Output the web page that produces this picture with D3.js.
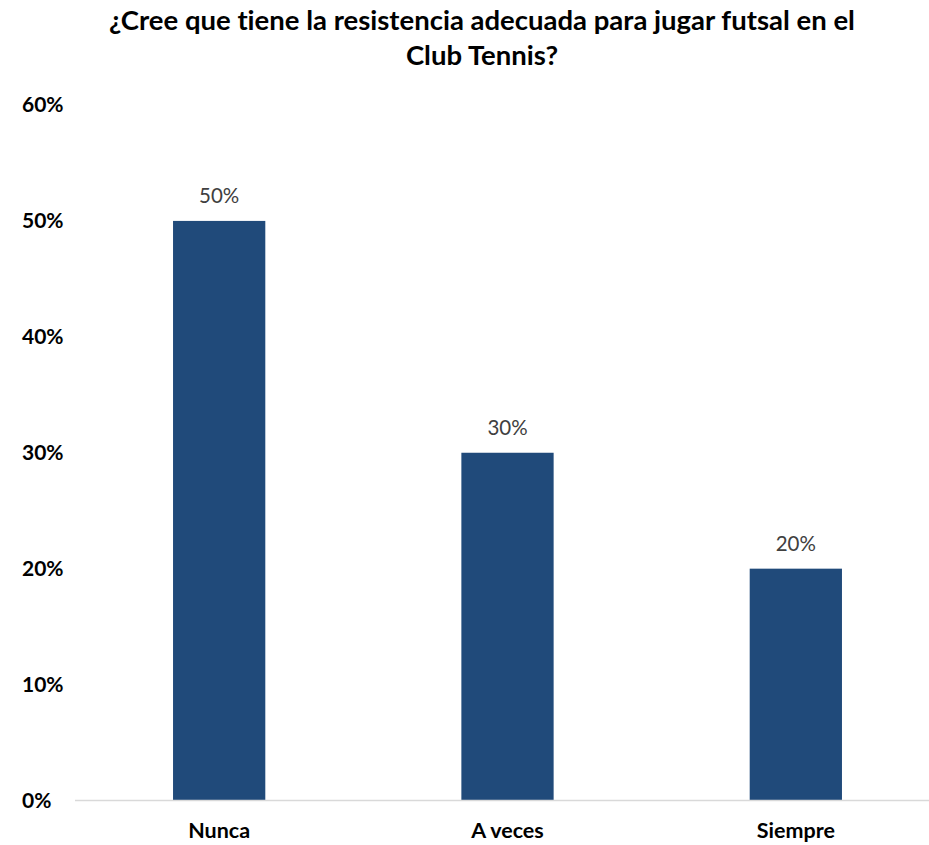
<!DOCTYPE html>
<html>
<head>
<meta charset="utf-8">
<script src="https://cdn.jsdelivr.net/npm/d3@7"></script>
<style>
  html, body { margin: 0; padding: 0; background: #fff; }
  svg { display: block; font-family: Lato, "Open Sans", sans-serif; font-variant-ligatures: none; }
</style>
</head>
<body>
<svg id="chart" width="929" height="845"></svg>
<script>
// Survey answers and share of respondents
const categories = ["Nunca", "A veces", "Siempre"];
const shares = [0.5, 0.3, 0.2];
const tickValues = [0, 0.1, 0.2, 0.3, 0.4, 0.5, 0.6];
const titleLines = ["¿Cree que tiene la resistencia adecuada para jugar futsal en el", "Club Tennis?"];

const svg = d3.select("#chart");
const plot = { left: 75, right: 940, top: 105, bottom: 800.5 };

const x = d3.scaleBand()
  .domain(categories)
  .range([plot.left, plot.right])
  .paddingInner(0.68)
  .paddingOuter(0.34);

const y = d3.scaleLinear()
  .domain([0, 0.6])
  .range([plot.bottom, plot.top]);

const pct = d3.format(".0%");

// Title
svg.append("g")
  .selectAll("text")
  .data(titleLines)
  .join("text")
  .attr("x", 482)
  .attr("y", (d, i) => 30 + i * 34.5)
  .attr("text-anchor", "middle")
  .attr("font-size", 27.5)
  .attr("font-weight", "bold")
  .attr("fill", "#000")
  .text(d => d);

// Y axis labels (left-aligned, no line)
const yAxis = svg.append("g")
  .attr("transform", "translate(22,0)")
  .call(d3.axisLeft(y).tickValues(tickValues).tickFormat(pct).tickSize(0).tickPadding(0));
yAxis.select(".domain").remove();
yAxis.selectAll("text")
  .attr("text-anchor", "start")
  .attr("x", 0)
  .attr("font-size", 21)
  .attr("font-weight", "bold")
  .attr("font-family", "Lato, sans-serif")
  .attr("fill", "#000");

// Bars
svg.append("g")
  .selectAll("rect")
  .data(categories)
  .join("rect")
  .attr("x", d => x(d))
  .attr("y", (d, i) => y(shares[i]))
  .attr("width", x.bandwidth())
  .attr("height", (d, i) => y(0) - y(shares[i]))
  .attr("fill", "#204a7a");

// Baseline
svg.append("line")
  .attr("x1", plot.left).attr("x2", plot.right)
  .attr("y1", y(0)).attr("y2", y(0))
  .attr("stroke", "#d9d9d9")
  .attr("stroke-width", 1.5);

// Value labels
svg.append("g")
  .selectAll("text")
  .data(categories)
  .join("text")
  .attr("x", d => x(d) + x.bandwidth() / 2)
  .attr("y", (d, i) => y(shares[i]) - 18)
  .attr("text-anchor", "middle")
  .attr("font-size", 20.5)
  .attr("fill", "#404040")
  .text((d, i) => pct(shares[i]));

// Category labels
const xAxis = svg.append("g")
  .attr("transform", `translate(0,${plot.bottom})`)
  .call(d3.axisBottom(x).tickSize(0).tickPadding(22));
xAxis.select(".domain").remove();
xAxis.selectAll("text")
  .attr("font-size", 21.5)
  .attr("font-weight", "bold")
  .attr("font-family", "Lato, sans-serif")
  .attr("fill", "#000");
</script>
</body>
</html>
